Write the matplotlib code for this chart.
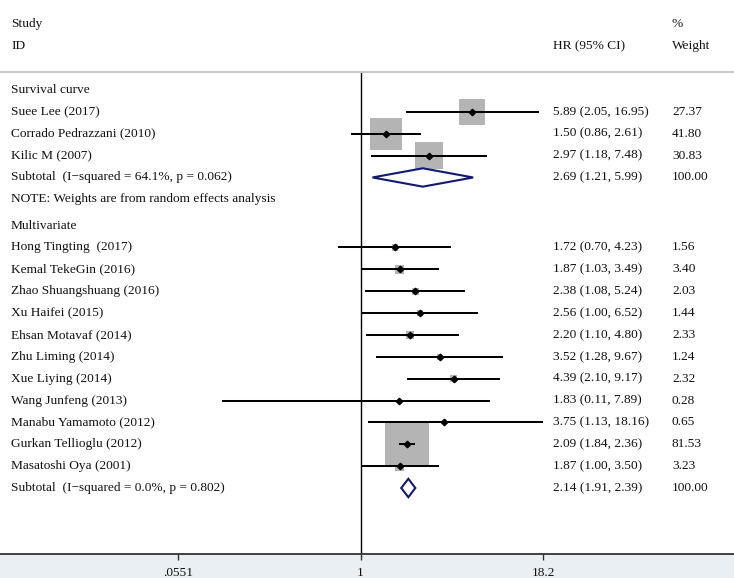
import numpy as np
import matplotlib
matplotlib.use("Agg")
import matplotlib.pyplot as plt
from matplotlib.patches import Rectangle
from matplotlib.transforms import blended_transform_factory

plt.rcParams['font.family'] = ['Liberation Serif', 'DejaVu Serif']

# ---------------- data ----------------
surv_labels = ["Suee Lee (2017)", "Corrado Pedrazzani (2010)", "Kilic M (2007)"]
surv_hr = [5.89, 1.50, 2.97]
surv_lo = [2.05, 0.86, 1.18]
surv_hi = [16.95, 2.61, 7.48]
surv_w = [27.37, 41.80, 30.83]
surv_sub_label = "Subtotal  (I\u2212squared = 64.1%, p = 0.062)"
surv_sub = [2.69, 1.21, 5.99]
surv_sub_w = 100.00

multi_labels = ["Hong Tingting  (2017)", "Kemal TekeGin (2016)", "Zhao Shuangshuang (2016)",
                "Xu Haifei (2015)", "Ehsan Motavaf (2014)", "Zhu Liming (2014)",
                "Xue Liying (2014)", "Wang Junfeng (2013)", "Manabu Yamamoto (2012)",
                "Gurkan Tellioglu (2012)", "Masatoshi Oya (2001)"]
multi_hr = [1.72, 1.87, 2.38, 2.56, 2.20, 3.52, 4.39, 1.83, 3.75, 2.09, 1.87]
multi_lo = [0.70, 1.03, 1.08, 1.00, 1.10, 1.28, 2.10, 0.11, 1.13, 1.84, 1.00]
multi_hi = [4.23, 3.49, 5.24, 6.52, 4.80, 9.67, 9.17, 7.89, 18.16, 2.36, 3.50]
multi_w = [1.56, 3.40, 2.03, 1.44, 2.33, 1.24, 2.32, 0.28, 0.65, 81.53, 3.23]
multi_sub_label = "Subtotal  (I\u2212squared = 0.0%, p = 0.802)"
multi_sub = [2.14, 1.91, 2.39]
multi_sub_w = 100.00

xticks = [0.0551, 1, 18.2]
xtick_labels = [".0551", "1", "18.2"]

# ---------------- layout ----------------
W, H = 734, 578
fig = plt.figure(figsize=(W / 100, H / 100), dpi=100)
fig.patch.set_facecolor("white")
fig.patches.append(Rectangle((0, 0), 1, 25 / H, transform=fig.transFigure,
                             facecolor="#e9eff2", edgecolor="none", zorder=-5))

ax_bottom, ax_top = 554, 72
ax = fig.add_axes([0, (H - ax_bottom) / H, 1, (ax_bottom - ax_top) / H])
ax.set_facecolor("white")
ax.set_xscale("log")
# x=1 at 360.5 px, 144.9 px per decade
ppd = 144.9
x0 = 360.5
ax.set_xlim(10 ** ((0 - x0) / ppd), 10 ** ((W - x0) / ppd))

row_px = 21.87
first_row = 1.0
y_surv_head = 1.0
y_surv = [2.0, 3.0, 4.0]
y_surv_sub = 5.0
y_note = 6.0
y_multi_head = 7.2
y_multi = [8.2 + i for i in range(len(multi_labels))]
y_multi_sub = y_multi[-1] + 1
top_lim = first_row - (90 - ax_top) / row_px
bot_lim = y_multi_sub + (ax_bottom - 488) / row_px
ax.set_ylim(bot_lim, top_lim)

for s in ["left", "right"]:
    ax.spines[s].set_visible(False)
ax.spines["top"].set_color("#c9c9c9")
ax.spines["top"].set_linewidth(1.5)
ax.spines["bottom"].set_color("#333333")
ax.spines["bottom"].set_linewidth(1.3)
ax.set_yticks([])
ax.set_xticks(xticks)
ax.set_xticklabels(xtick_labels)
ax.minorticks_off()
ax.tick_params(axis="x", direction="out", length=4.3, width=1, color="#333333",
               labelsize=9.6, pad=5.2, labelcolor="#111111")

ax.axvline(1, color="black", lw=1.0, zorder=1)

k = 4.95  # px per sqrt(weight)
def draw_studies(ys, hr, lo, hi, w):
    sizes = [(k * np.sqrt(wi) * 0.72) ** 2 for wi in w]
    ax.scatter(hr, ys, s=sizes, marker="s", color="#b4b4b4", linewidths=0, zorder=2)
    for yi, l, h in zip(ys, lo, hi):
        ax.plot([l, h], [yi, yi], color="black", lw=1.45, solid_capstyle="butt", zorder=3)
    ax.plot(hr, ys, linestyle="none", marker="D", markersize=3.3, color="black", zorder=4)

def draw_diamond(y, est):
    h = 0.42
    ax.fill([est[1], est[0], est[2], est[0], est[1]], [y, y - h, y, y + h, y],
            facecolor="white", edgecolor="#101a70", lw=1.5, zorder=3)

draw_studies(y_surv, surv_hr, surv_lo, surv_hi, surv_w)
draw_studies(y_multi, multi_hr, multi_lo, multi_hi, multi_w)
draw_diamond(y_surv_sub, surv_sub)
draw_diamond(y_multi_sub, multi_sub)

fs = 9.6
tc = "#111111"
tr = blended_transform_factory(ax.transAxes, ax.transData)
xl, xhr, xw = 11 / W, 553 / W, 672 / W

def txt(x, y, s):
    ax.text(x, y, s, transform=tr, fontsize=fs, color=tc, va="center", ha="left")

txt(xl, y_surv_head, "Survival curve")
for yi, lab, hr, lo, hi, w in zip(y_surv, surv_labels, surv_hr, surv_lo, surv_hi, surv_w):
    txt(xl, yi, lab)
    txt(xhr, yi, f"{hr:.2f} ({lo:.2f}, {hi:.2f})")
    txt(xw, yi, f"{w:.2f}")
txt(xl, y_surv_sub, surv_sub_label)
txt(xhr, y_surv_sub, f"{surv_sub[0]:.2f} ({surv_sub[1]:.2f}, {surv_sub[2]:.2f})")
txt(xw, y_surv_sub, f"{surv_sub_w:.2f}")
txt(xl, y_note, "NOTE: Weights are from random effects analysis")

txt(xl, y_multi_head, "Multivariate")
for yi, lab, hr, lo, hi, w in zip(y_multi, multi_labels, multi_hr, multi_lo, multi_hi, multi_w):
    txt(xl, yi, lab)
    txt(xhr, yi, f"{hr:.2f} ({lo:.2f}, {hi:.2f})")
    txt(xw, yi, f"{w:.2f}")
txt(xl, y_multi_sub, multi_sub_label)
txt(xhr, y_multi_sub, f"{multi_sub[0]:.2f} ({multi_sub[1]:.2f}, {multi_sub[2]:.2f})")
txt(xw, y_multi_sub, f"{multi_sub_w:.2f}")

def ftxt(xpx, ypx, s):
    fig.text(xpx / W, 1 - ypx / H, s, fontsize=fs, color=tc, va="center", ha="left")
ftxt(11, 24, "Study")
ftxt(11, 46, "ID")
ftxt(553, 46, "HR (95% CI)")
ftxt(672, 24, "%")
ftxt(672, 46, "Weight")

fig.savefig("out.png", dpi=100, facecolor=fig.get_facecolor())
